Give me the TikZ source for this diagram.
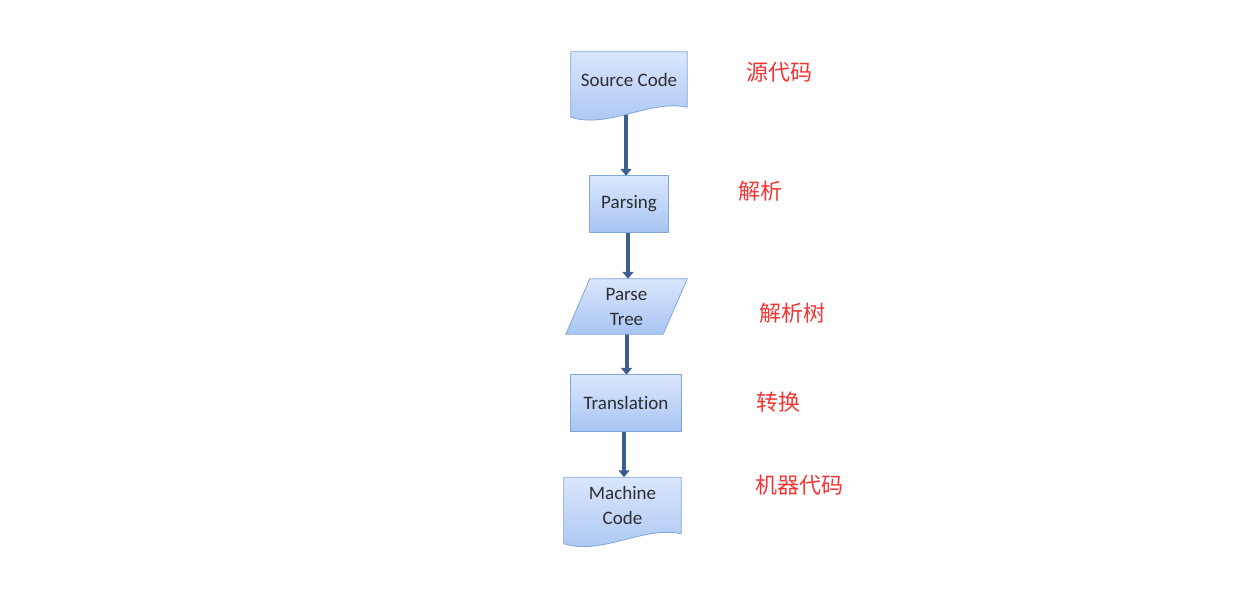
\documentclass[tikz,border=0pt]{standalone}
\usepackage{fontspec}
\setmainfont[Ligatures={NoCommon}]{Carlito}
\newfontfamily\cjk{Noto Sans CJK SC}
\usetikzlibrary{arrows.meta,calc}
\definecolor{arrc}{RGB}{60,96,142}
\definecolor{boxtop}{RGB}{218,230,252}
\definecolor{boxbot}{RGB}{168,197,243}
\definecolor{boxline}{RGB}{128,166,218}
\definecolor{labc}{RGB}{246,52,52}
\definecolor{txtc}{RGB}{45,45,50}
\pgfdeclarelayer{bg}
\pgfsetlayers{bg,main}
\begin{document}
\begin{tikzpicture}[x=1pt,y=-1pt,
  body/.style={inner sep=0pt, text=txtc, font=\fontsize{19}{25}\selectfont, align=center},
  shp/.style={top color=boxtop, bottom color=boxbot, draw=boxline, line width=0.8pt},
  arr/.style={draw=arrc, line width=4pt, -{Triangle[length=7pt,width=11pt]}},
  lab/.style={text=labc, font=\cjk\fontsize{22}{26}\selectfont, inner sep=0pt}]
\useasboundingbox (0,0) rectangle (1250,612);
% boxes
\node[body, minimum width=116pt, minimum height=55pt] (sc) at (629,79.5) {Source Code};
\node[body, minimum width=78pt, minimum height=56pt] (pa) at (629,204) {Parsing};
\node[body, minimum width=97pt, minimum height=55pt] (pt) at (626.5,306.5) {Parse\\Tree};
\node[body, minimum width=110pt, minimum height=56pt] (tr) at (626,403) {Translation};
\node[body, minimum width=117pt, minimum height=56pt] (mc) at (622.5,505.5) {Machine\\Code};
% labels
\node[lab] (l1) at (779,72) {源代码};
\node[lab] (l2) at (760,191) {解析};
\node[lab] (l3) at (792,313) {解析树};
\node[lab] (l4) at (778,402) {转换};
\node[lab] (l5) at (799,485) {机器代码};
\begin{pgfonlayer}{bg}
  \draw[arr] ([xshift=-3pt]sc.south) -- ([xshift=-3pt]sc.south |- pa.north);
  \draw[arr] ([xshift=-1pt]pa.south) -- ([xshift=-1pt]pa.south |- pt.north);
  \draw[arr] (pt.south) -- (pt.south |- tr.north);
  \draw[arr] ([xshift=-2pt]tr.south) -- ([xshift=-2pt]tr.south |- mc.north);
  % documents and boxes
  \path[shp] (sc.north west) -- (sc.north east) -- (sc.south east)
     .. controls +(-38,-8) and +(38,12) .. ($(sc.south west)+(0,10)$) -- cycle;
  \path[shp] (pa.north west) rectangle (pa.south east);
  \path[shp] ($(pt.north west)+(12,0)$) -- ($(pt.north east)+(12,0)$)
     -- ($(pt.south east)+(-12,0)$) -- ($(pt.south west)+(-12,0)$) -- cycle;
  \path[shp] (tr.north west) rectangle (tr.south east);
  \path[shp] (mc.north west) -- (mc.north east) -- (mc.south east)
     .. controls +(-38,-8) and +(38,12) .. ($(mc.south west)+(0,10)$) -- cycle;
\end{pgfonlayer}
\end{tikzpicture}
\end{document}
